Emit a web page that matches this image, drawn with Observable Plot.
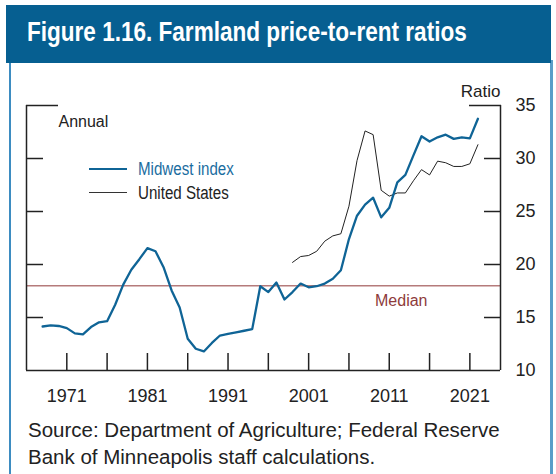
<!DOCTYPE html>
<html><head><meta charset="utf-8">
<script src="https://cdn.jsdelivr.net/npm/d3@7"></script>
<script src="https://cdn.jsdelivr.net/npm/@observablehq/plot@0.6"></script>
<style>
html,body{margin:0;padding:0;background:#fff;width:556px;height:474px;overflow:hidden;position:relative;font-family:"Liberation Sans",Arial,sans-serif;}
#bar{position:absolute;left:6px;top:5px;width:545px;height:58px;background:#065f91;z-index:3;}
#title{position:absolute;left:21px;top:13.5px;color:#fff;font-weight:bold;font-size:27px;line-height:27.5px;transform:scaleX(0.835);transform-origin:left center;white-space:nowrap;}
#panel{position:absolute;left:9px;top:60px;width:539px;height:430px;border-left:2px solid #3d8cc1;border-right:3px solid #5a9dc8;z-index:2;pointer-events:none;}
#chart{position:absolute;left:0;top:75px;z-index:1;}
.leg{position:absolute;left:89px;height:24px;display:flex;align-items:center;z-index:4;}
.leg .ln{width:38px;}
.leg .tx{margin-left:11px;font-size:18px;line-height:24px;transform:scaleX(0.84);transform-origin:left center;white-space:nowrap;}
#source{position:absolute;left:28px;top:417px;font-size:20.5px;line-height:26.5px;color:#222;z-index:4;white-space:nowrap;}
</style>
</head><body>
<div id="bar"><div id="title">Figure 1.16. Farmland price-to-rent ratios</div></div>
<div id="panel"></div>
<div id="chart"></div>
<div class="leg" style="top:157px"><div class="ln" style="border-top:2.2px solid #0f6496"></div><div class="tx" style="color:#1b6d9f">Midwest index</div></div>
<div class="leg" style="top:180.5px"><div class="ln" style="border-top:1px solid #333"></div><div class="tx" style="color:#222">United States</div></div>
<div id="source">Source: Department of Agriculture; Federal Reserve<br>Bank of Minneapolis staff calculations.</div>
<script>
// ---- data ----
const midwestYears = [1968,1969,1970,1971,1972,1973,1974,1975,1976,1977,
  1978,1979,1980,1981,1982,1983,1984,1985,1986,1987,
  1988,1989,1990,1991,1992,1993,1994,1995,1996,1997,
  1998,1999,2000,2001,2002,2003,2004,2005,2006,2007,
  2008,2009,2010,2011,2012,2013,2014,2015,2016,2017,
  2018,2019,2020,2021,2022];
const midwestValues = [14.15,14.25,14.2,14.0,13.5,13.4,14.1,14.55,14.65,16.2,
  18.1,19.5,20.5,21.55,21.25,19.75,17.55,15.95,13.0,12.05,
  11.8,12.6,13.3,13.45,13.6,13.75,13.9,17.95,17.4,18.3,
  16.7,17.4,18.2,17.85,17.95,18.2,18.65,19.45,22.4,24.6,
  25.65,26.3,24.45,25.35,27.75,28.45,30.3,32.1,31.6,32.0,
  32.25,31.85,32.0,31.9,33.75];
const usYears = [1999,2000,2001,2002,2003,2004,2005,2006,2007,2008,
  2009,2010,2011,2012,2013,2014,2015,2016,2017,2018,
  2019,2020,2021,2022];
const usValues = [20.2,20.75,20.85,21.25,22.2,22.7,22.9,25.5,29.8,32.6,
  32.25,27.0,26.45,26.75,26.75,27.9,28.95,28.45,29.75,29.6,
  29.25,29.25,29.5,31.3];
const median = 18.0;
const xDomain = [1966, 2024.8];
const yDomain = [10, 35];
const xTickYears = [1971,1976,1981,1986,1991,1996,2001,2006,2011,2016,2021];
const xLabelYears = [1971,1981,1991,2001,2011,2021];
const yInnerTicks = [15,20,25,30];
const yTopTick = [35];
const yLabelTicks = [10,15,20,25,30,35];

const midwest = midwestYears.map((year,i)=>({year, value: midwestValues[i]}));
const us = usYears.map((year,i)=>({year, value: usValues[i]}));

const ink = "#222";
const chart = Plot.plot({
  width: 556, height: 340,
  marginLeft: 26, marginRight: 56, marginTop: 30, marginBottom: 45,
  x: {domain: xDomain},
  y: {domain: yDomain},
  style: {fontFamily: "'Liberation Sans', Arial, sans-serif", fontSize: "18px", color: ink, background: "transparent", overflow: "visible"},
  marks: [
    Plot.ruleY([median], {stroke: "#b57b7b", strokeWidth: 1.5}),
    Plot.text([median], {y: d => d, text: () => "Median", frameAnchor: "right", dx: -73, dy: 15, textAnchor: "end", lineAnchor: "middle", fill: "#8e3b3b", fontSize: 16}),
    Plot.line(us, {x: "year", y: "value", stroke: "#222", strokeWidth: 1}),
    Plot.line(midwest, {x: "year", y: "value", stroke: "#0f6496", strokeWidth: 2.3}),
    Plot.ruleX(xDomain, {stroke: ink, strokeWidth: 1.5}),
    Plot.ruleY([yDomain[0]], {stroke: ink, strokeWidth: 1.5}),
    Plot.axisX(xTickYears, {anchor: "bottom", tickSize: 17, dy: -17, tickFormat: () => "", label: null, stroke: ink, strokeWidth: 1.5}),
    Plot.axisX(xLabelYears, {anchor: "bottom", tickSize: 0, tickPadding: 19, tickFormat: d => String(d), label: null, fontSize: 18, fill: ink}),
    Plot.axisY(yInnerTicks, {anchor: "left", tickSize: 17, dx: 17, tickFormat: () => "", label: null, stroke: ink, strokeWidth: 1.5}),
    Plot.axisY(yTopTick, {anchor: "left", tickSize: 32, dx: 32, tickFormat: () => "", label: null, stroke: ink, strokeWidth: 1.5}),
    Plot.axisY(yInnerTicks, {anchor: "right", tickSize: 17, dx: -17, tickFormat: () => "", label: null, stroke: ink, strokeWidth: 1.5}),
    Plot.axisY(yTopTick, {anchor: "right", tickSize: 32, dx: -32, tickFormat: () => "", label: null, stroke: ink, strokeWidth: 1.5}),
    Plot.axisY(yLabelTicks, {anchor: "right", tickSize: 0, tickPadding: 15, tickFormat: d => String(d), label: null, fontSize: 18, fill: ink}),
    Plot.text(["Ratio"], {frameAnchor: "top-right", dy: -14, textAnchor: "end", lineAnchor: "middle", fontSize: 17, fill: ink}),
    Plot.text(["Annual"], {frameAnchor: "top-left", dx: 32, dy: 16, textAnchor: "start", lineAnchor: "middle", fontSize: 16, fill: ink})
  ]
});
document.getElementById("chart").appendChild(chart);
</script>
</body></html>
